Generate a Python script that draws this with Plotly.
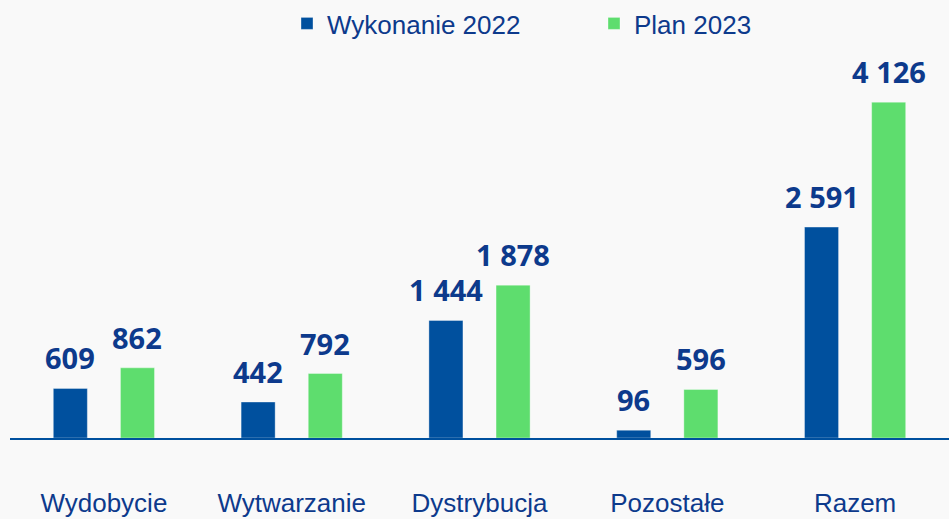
import plotly.graph_objects as go

categories = ["Wydobycie", "Wytwarzanie", "Dystrybucja", "Pozostałe", "Razem"]
wykonanie_2022 = [609, 442, 1444, 96, 2591]
plan_2023 = [862, 792, 1878, 596, 4126]
series_names = ["Wykonanie 2022", "Plan 2023"]

BLUE = "#00509E"
GREEN = "#5EDD6E"
TEXT = "#0D3A8C"
BG = "#F9F9F9"

def fmt(v):
    return f"{v:,}".replace(",", " ")

fig = go.Figure()
fig.add_trace(go.Bar(x=categories, y=wykonanie_2022, name=series_names[0],
                     marker=dict(color=BLUE, line=dict(color="rgba(255,255,255,0.35)", width=1))))
fig.add_trace(go.Bar(x=categories, y=plan_2023, name=series_names[1],
                     marker=dict(color=GREEN, line=dict(color="rgba(255,255,255,0.35)", width=1))))

bargap = 0.285
slot = (1 - bargap) / 2
annotations = []
for i, (a, b) in enumerate(zip(wykonanie_2022, plan_2023)):
    for off, v in ((-slot / 2, a), (slot / 2, b)):
        annotations.append(dict(x=i + off, y=v, xref="x", yref="y", text=fmt(v),
                                showarrow=False, yanchor="bottom", yshift=9,
                                font=dict(family="Noto Sans", size=29, color=TEXT, weight="bold")))

fig.update_layout(
    width=949, height=519,
    paper_bgcolor=BG, plot_bgcolor=BG,
    margin=dict(l=10, r=0, t=60, b=81),
    barmode="group", bargap=bargap, bargroupgap=0.493,
    showlegend=True,
    legend=dict(orientation="h", x=0.295, xanchor="left", y=1.0, yanchor="top",
                yref="container", entrywidth=262, itemwidth=30,
                font=dict(family="Liberation Sans", size=26, color=TEXT)),
    annotations=annotations,
)
fig.update_xaxes(showline=True, linecolor=BLUE, linewidth=2, showgrid=False,
                 ticks="", ticklabelstandoff=41,
                 tickfont=dict(family="Liberation Sans", size=26, color=TEXT))
fig.update_yaxes(range=[0, 4644], visible=False, showgrid=False, zeroline=False)

fig.write_html("out.html", config={"displayModeBar": False},
               post_script="document.body.style.margin='0';document.body.style.background='#F9F9F9';")
